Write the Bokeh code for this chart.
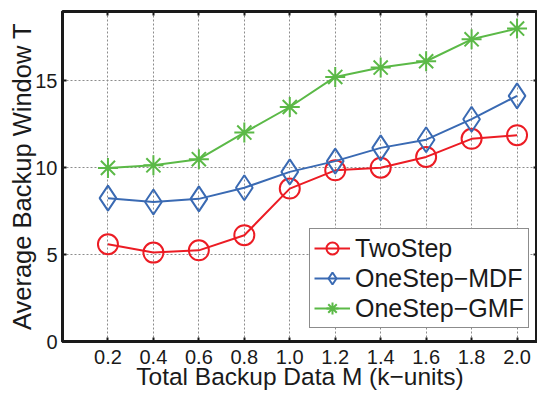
from bokeh.plotting import figure
from bokeh.models import (Range1d, LinearAxis, FixedTicker, PrintfTickFormatter,
                          Legend, LegendItem)
from bokeh.embed import file_html
from bokeh.resources import INLINE

# ---- data ----
m_values = [0.2, 0.4, 0.6, 0.8, 1.0, 1.2, 1.4, 1.6, 1.8, 2.0]
two_step = [5.59, 5.11, 5.24, 6.11, 8.79, 9.84, 9.99, 10.61, 11.65, 11.86]
one_step_mdf = [8.24, 8.02, 8.2, 8.84, 9.75, 10.37, 11.13, 11.6, 12.78, 14.12]
one_step_gmf = [9.98, 10.13, 10.48, 12.01, 13.48, 15.21, 15.75, 16.11, 17.37, 17.99]
x_ticks = [0.2, 0.4, 0.6, 0.8, 1.0, 1.2, 1.4, 1.6, 1.8, 2.0]
y_ticks = [0, 5, 10, 15]
series_names = ["TwoStep", "OneStep\u2212MDF", "OneStep\u2212GMF"]
x_label = "Total Backup Data M (k\u2212units)"
y_label = "Average Backup Window T"

RED = "#ec1c24"
BLUE = "#3a6ab3"
GREEN = "#5bb947"
INK = "#1a1a1a"
FONT = "Liberation Sans"

p = figure(width=537, height=394, output_backend="svg", toolbar_location=None,
           x_range=Range1d(0, 2.09), y_range=Range1d(0, 18.97),
           min_border_left=62, min_border_right=0, min_border_top=11,
           min_border_bottom=53)
p.background_fill_color = "white"
p.border_fill_color = "white"
p.outline_line_color = INK
p.outline_line_width = 3

# axes
xa = p.xaxis[0]
xa.ticker = FixedTicker(ticks=x_ticks)
xa.formatter = PrintfTickFormatter(format="%.1f")
ya = p.yaxis[0]
ya.ticker = FixedTicker(ticks=y_ticks)
for ax in (xa, ya):
    ax.axis_line_width = 3
    ax.axis_line_color = INK
    ax.major_tick_in = 4
    ax.major_tick_out = 0
    ax.major_tick_line_width = 2
    ax.major_tick_line_color = INK
    ax.minor_tick_line_color = None
    ax.major_label_text_font = FONT
    ax.major_label_text_font_size = "20px"
    ax.major_label_text_color = INK
    ax.axis_label_text_font = FONT
    ax.axis_label_text_font_style = "normal"
    ax.axis_label_text_color = INK
xa.major_label_standoff = 8
ya.major_label_standoff = 5
xa.axis_label = x_label
xa.axis_label_text_font_size = "24.5px"
xa.axis_label_standoff = -4
ya.axis_label = y_label
ya.axis_label_text_font_size = "25.5px"
ya.axis_label_standoff = -4

top = LinearAxis(ticker=FixedTicker(ticks=x_ticks), major_label_text_font_size="0px",
                 major_label_text_color=None,
                 major_label_standoff=0, major_tick_in=4, major_tick_out=0,
                 major_tick_line_width=2, major_tick_line_color=INK,
                 minor_tick_line_color=None, axis_line_color=None)
right = LinearAxis(ticker=FixedTicker(ticks=y_ticks), major_label_text_font_size="0px",
                   major_label_text_color=None,
                   major_label_standoff=0, major_tick_in=4, major_tick_out=0,
                   major_tick_line_width=2, major_tick_line_color=INK,
                   minor_tick_line_color=None, axis_line_color=None)
p.add_layout(top, "above")
p.add_layout(right, "right")

# grid
p.xgrid.ticker = FixedTicker(ticks=x_ticks)
p.ygrid.ticker = FixedTicker(ticks=y_ticks)
for g in (p.xgrid[0], p.ygrid[0]):
    g.grid_line_color = "#8c8c8c"
    g.grid_line_dash = "2 2"
    g.grid_line_width = 1

# series
items = []
specs = [(two_step, RED, "circle", 20), (one_step_mdf, BLUE, "diamond", 25),
         (one_step_gmf, GREEN, "asterisk", 20)]
for name, (ys, col, mk, sz) in zip(series_names, specs):
    ln = p.line(m_values, ys, line_color=col, line_width=2)
    sc = p.scatter(m_values, ys, marker=mk, size=sz, line_color=col,
                   fill_color=None, line_width=2)
    items.append(LegendItem(label=name, renderers=[ln, sc]))

legend = Legend(items=items, location=(247, 13), margin=0, padding=4, spacing=0,
                glyph_width=36, glyph_height=30, label_height=29, label_standoff=5,
                label_text_font=FONT, label_text_font_size="25px",
                label_text_color=INK, border_line_color=INK, border_line_width=1,
                background_fill_color="white", background_fill_alpha=1)
p.add_layout(legend)

open("out.html", "w").write(file_html(p, INLINE))
